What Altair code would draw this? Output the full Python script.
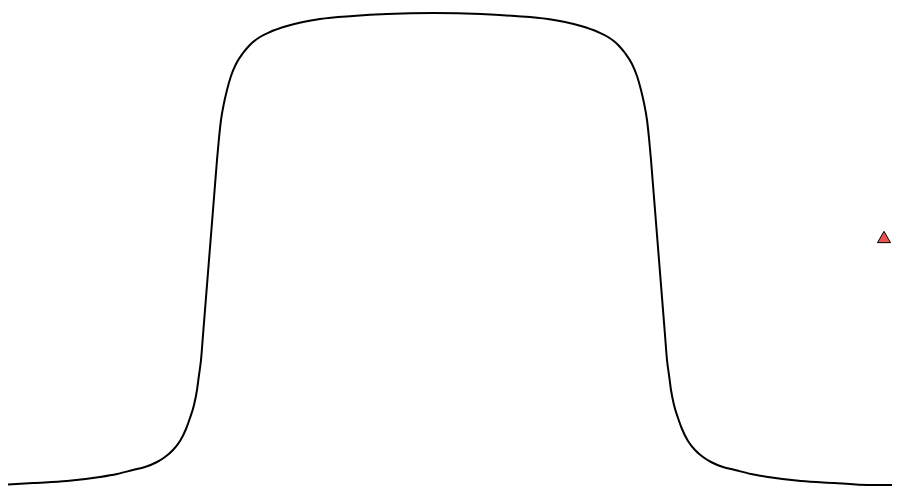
import altair as alt
import pandas as pd

# curve samples: x position and vertical pixel position (top = 0)
left_x = [0, 33, 67, 100, 117, 133, 145, 157, 165, 173, 180, 186, 190, 194, 197, 199, 201, 203, 205,
          207, 209, 211, 213, 215, 217, 219, 221, 224, 227, 231, 236, 243, 248, 253, 260, 270, 287,
          303, 320, 353, 387, 434]
left_ypix = [485, 483, 481, 477, 474, 470, 467, 462, 457, 450, 441, 429, 418, 405, 390, 375, 360, 335, 310,
             285, 260, 235, 210, 185, 160, 138, 120, 103, 90, 76, 64, 53, 47, 42, 37, 32, 26,
             22, 19, 16, 14, 13]
right_x = [481, 515, 548, 565, 581, 598, 608, 615, 620, 625, 632, 637, 641, 644, 647, 649, 651, 653,
           655, 657, 659, 661, 663, 665, 667, 669, 671, 674, 678, 682, 688, 695, 703, 711, 723, 735,
           751, 768, 801, 835, 868, 900]
right_ypix = [14, 16, 19, 22, 26, 32, 37, 42, 47, 53, 64, 76, 90, 103, 120, 138, 160, 185,
              210, 235, 260, 285, 310, 335, 360, 375, 390, 405, 418, 429, 441, 450, 457, 462, 467, 470,
              474, 477, 481, 483, 485, 485]

marker_x = [884]
marker_ypix = [237]

cx = left_x + right_x
cy = left_ypix + right_ypix
curve = pd.DataFrame({"x": cx, "y": [498 - v for v in cy], "order": list(range(len(cx)))})
marker = pd.DataFrame({"x": marker_x, "y": [498 - v for v in marker_ypix]})

xs = alt.Scale(domain=[8, 892], nice=False, zero=False)
ys = alt.Scale(domain=[12, 490], nice=False, zero=False)

line = alt.Chart(curve).mark_line(color="black", strokeWidth=2, interpolate="monotone", clip=False).encode(
    x=alt.X("x:Q", scale=xs, axis=None),
    y=alt.Y("y:Q", scale=ys, axis=None),
    order="order:Q",
)

pt = alt.Chart(marker).mark_point(shape="triangle-up", size=170, filled=True, fill="#e8534f",
                                   stroke="black", strokeWidth=1, opacity=1).encode(
    x=alt.X("x:Q", scale=xs, axis=None),
    y=alt.Y("y:Q", scale=ys, axis=None),
)

chart = alt.layer(line, pt).properties(
    width=884, height=478, padding=0, autosize=alt.AutoSizeParams(type="none")
).configure_view(stroke=None)

chart.save("out.html", embed_options={"renderer": "svg", "actions": False})
